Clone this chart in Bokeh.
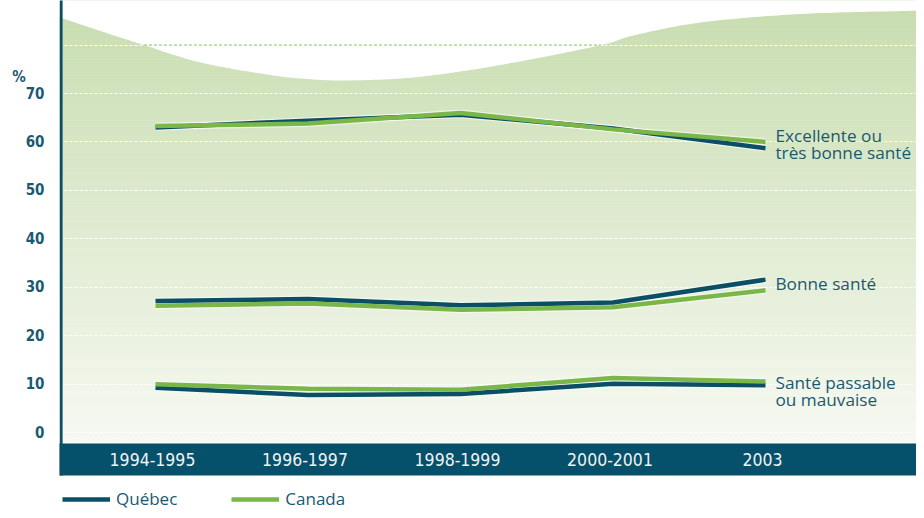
import numpy as np
from bokeh.plotting import figure
from bokeh.models import Range1d, FixedTicker, Legend, LegendItem, ColumnDataSource
from bokeh.core.properties import value
from bokeh.embed import file_html
from bokeh.resources import INLINE

# ---------------- data ----------------
periods = ["1994-1995", "1996-1997", "1998-1999", "2000-2001", "2003"]
category_labels = ["Excellente ou\ntrès bonne santé", "Bonne santé", "Santé passable\nou mauvaise"]
quebec_excellente = [63.0, 64.4, 65.6, 62.8, 58.7]
canada_excellente = [63.3, 63.8, 66.0, 62.6, 60.0]
quebec_bonne = [27.2, 27.6, 26.3, 26.9, 31.6]
canada_bonne = [26.2, 26.7, 25.4, 25.9, 29.4]
quebec_passable = [9.3, 7.8, 8.0, 10.1, 9.8]
canada_passable = [10.0, 9.1, 8.9, 11.3, 10.6]
y_ticks = [0, 10, 20, 30, 40, 50, 60, 70]
unit_label = "%"
unit_label_pos = 73.5
grid_values = [0, 10, 20, 30, 40, 50, 60, 70]
top_line_value = 80
legend_names = ["Québec", "Canada"]

# ---------------- style ----------------
QC = "#0b4f66"
CA = "#7ab648"
TEXT = "#1a5a70"
BAND = "#05506a"
GRAD_TOP = np.array([200, 221, 176])
GRAD_BOT = np.array([247, 249, 242])
NARROW = "DejaVu Sans Condensed"
SANS = "Open Sans"

X0, X1 = -0.6295, 4.9902
Y0, Y1 = -16.03, 89.19
BAND_TOP, BAND_BOT = -2.21, -8.82
AXIS_X = -0.619

# decorative wave (background shape), in chart units
wave_x = [-0.70, -0.630, -0.361, -0.098, 0.295, 0.734, 0.951, 1.213, 1.607, 2.000,
          2.459, 2.938, 3.134, 3.574, 4.230, 5.043, 5.10]
wave_y = [86.2, 85.69, 82.90, 80.22, 76.40, 73.92, 73.10, 72.69, 73.10, 74.54,
          77.02, 80.11, 81.97, 84.65, 86.40, 87.12, 87.15]


def catmull(xs, ys, n=24):
    pts = np.column_stack([xs, ys])
    out = []
    for i in range(len(pts) - 1):
        p0 = pts[max(i - 1, 0)]
        p1 = pts[i]
        p2 = pts[i + 1]
        p3 = pts[min(i + 2, len(pts) - 1)]
        for t in np.linspace(0, 1, n, endpoint=False):
            t2, t3 = t * t, t * t * t
            pt = 0.5 * ((2 * p1) + (-p0 + p2) * t + (2 * p0 - 5 * p1 + 4 * p2 - p3) * t2
                        + (-p0 + 3 * p1 - 3 * p2 + p3) * t3)
            out.append(pt)
    out.append(pts[-1])
    out = np.array(out)
    return out[:, 0], out[:, 1]


cx, cy = catmull(wave_x, wave_y)

p = figure(width=916, height=510, output_backend="svg", toolbar_location=None,
           x_range=Range1d(X0, X1), y_range=Range1d(Y0, Y1),
           x_axis_location=None, min_border_left=59, min_border_right=0,
           min_border_top=0, min_border_bottom=0)
p.outline_line_color = None
p.xgrid.visible = False
p.ygrid.visible = False
p.background_fill_color = "white"
p.border_fill_color = "white"

# gradient background
N = 140
edges = np.linspace(BAND_TOP, Y1 + 1, N + 1)
cols = []
for k in range(N):
    t = (edges[k] + edges[k + 1]) / 2
    f = (t - BAND_TOP) / (88.0 - BAND_TOP)
    f = min(max(f, 0), 1)
    c = GRAD_BOT + (GRAD_TOP - GRAD_BOT) * f
    cols.append("#%02x%02x%02x" % tuple(int(round(v)) for v in c))
p.quad(left=X0 - 1, right=X1 + 1, bottom=edges[:-1], top=edges[1:] + 0.05,
       fill_color=cols, line_color=cols, line_width=0.5)

# white grid lines
p.hspan(y=grid_values + [top_line_value], line_color="white", line_dash="3 2", line_width=1)

# white area above the wave
px_ = list(cx) + [X1 + 1, X0 - 1]
py_ = list(cy) + [Y1 + 5, Y1 + 5]
p.patch(px_, py_, fill_color="white", line_color=None)

# green dotted part of the top line where it is outside the wave
dense_x = np.linspace(X0, X1, 4000)
dense_y = np.interp(dense_x, cx, cy)
below = dense_x[dense_y < top_line_value]
if len(below):
    p.segment(x0=[below[0]], y0=[top_line_value], x1=[below[-1]], y1=[top_line_value],
              line_color="#8cc152", line_dash="3 2", line_width=1)

# dark band at bottom
p.quad(left=X0 - 1, right=X1 + 1, bottom=BAND_BOT, top=BAND_TOP, fill_color=BAND, line_color=None)

# axis line
p.segment(x0=[AXIS_X], y0=[BAND_BOT], x1=[AXIS_X], y1=[Y1 + 5], line_color=QC, line_width=3)

# x labels in band
xs = list(range(len(periods)))
p.text(x=xs, y=[(BAND_TOP + BAND_BOT) / 2] * len(xs), text=periods,
       text_font=value(NARROW), text_font_size="17.5px", text_color="#eef3f4",
       text_align="center", text_baseline="middle", x_offset=-3)

# lines
series = [(quebec_excellente, canada_excellente),
          (quebec_bonne, canada_bonne),
          (quebec_passable, canada_passable)]
qc_r = None
ca_r = None
for q, c in series:
    p.line(xs, q, line_color="white", line_width=7, line_alpha=0.55)
    p.line(xs, c, line_color="white", line_width=7, line_alpha=0.55)
for q, c in series:
    r1 = p.line(xs, q, line_color=QC, line_width=4.5)
    r2 = p.line(xs, c, line_color=CA, line_width=4.5)
    if qc_r is None:
        qc_r, ca_r = r1, r2

# category labels at right
last = len(xs) - 1
lab_y = [(q[-1] + c[-1]) / 2 for q, c in series]
src = ColumnDataSource(dict(x=[last] * 3, y=lab_y, t=category_labels, yo=[-1, -1, 8]))
p.text(x="x", y="y", text="t", source=src, x_offset=10, y_offset="yo",
       text_font=value(SANS), text_font_size="17.2px", text_color=TEXT,
       text_align="left", text_baseline="middle", text_line_height=0.75)

# y axis (with the unit as an extra labelled tick)
ax = p.yaxis[0]
ax.ticker = FixedTicker(ticks=y_ticks + [unit_label_pos])
ax.major_label_overrides = {unit_label_pos: unit_label + "\u00a0" * 4}
ax.axis_line_color = None
ax.major_tick_line_color = None
ax.minor_tick_line_color = None
ax.major_label_standoff = 9
ax.major_label_text_font = NARROW
ax.major_label_text_font_style = "bold"
ax.major_label_text_font_size = "15px"
ax.major_label_text_color = TEXT

# legend
leg = Legend(items=[LegendItem(label=legend_names[0], renderers=[qc_r]),
                    LegendItem(label=legend_names[1], renderers=[ca_r])],
             orientation="horizontal", location=(3, 0), padding=0, margin=0,
             spacing=54, glyph_width=48, glyph_height=20, label_standoff=6,
             label_text_font=SANS, label_text_font_size="17px", label_text_color=TEXT,
             border_line_color=None, background_fill_alpha=0)
p.add_layout(leg)

open("out.html", "w").write(file_html(p, INLINE))
